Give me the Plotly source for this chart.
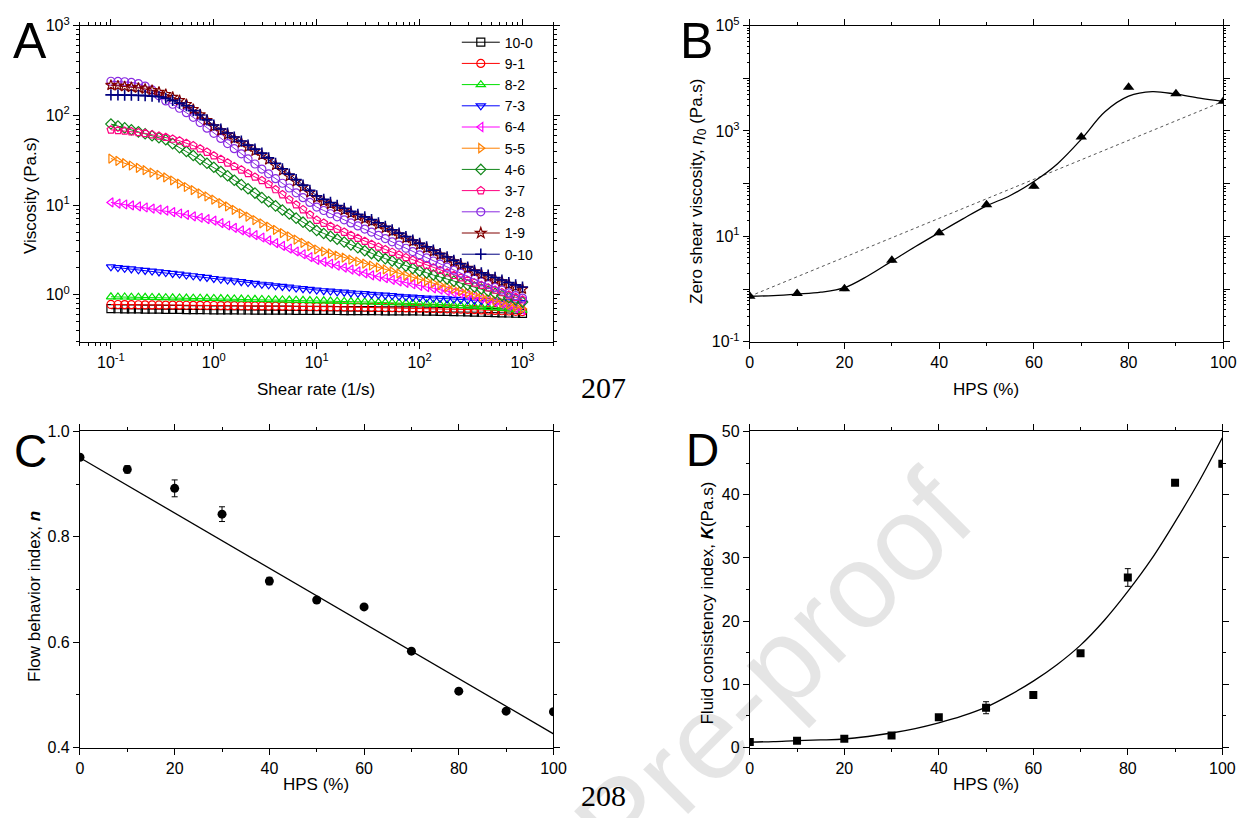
import plotly.graph_objects as go

# ---------------- Panel A data ----------------
shear_rate = [0.1, 0.117, 0.136, 0.158, 0.185, 0.215, 0.251, 0.293, 0.341, 0.398, 0.464, 0.541, 0.631, 0.736, 0.858,
              1, 1.17, 1.36, 1.58, 1.85, 2.15, 2.51, 2.93, 3.41, 3.98, 4.64, 5.41, 6.31, 7.36, 8.58,
              10, 11.7, 13.6, 15.8, 18.5, 21.5, 25.1, 29.3, 34.1, 39.8, 46.4, 54.1, 63.1, 73.6, 85.8,
              100, 117, 136, 158, 185, 215, 251, 293, 341, 398, 464, 541, 631, 736, 858, 1000]

eta_10_0 = [0.70, 0.699, 0.697, 0.696, 0.695, 0.693, 0.692, 0.691, 0.689, 0.688, 0.687, 0.685, 0.684, 0.683, 0.681, 0.68,
            0.679, 0.679, 0.678, 0.677, 0.677, 0.676, 0.675, 0.675, 0.674, 0.673, 0.673, 0.672, 0.671, 0.671, 0.67,
            0.669, 0.669, 0.668, 0.667, 0.667, 0.666, 0.665, 0.665, 0.664, 0.663, 0.663, 0.662, 0.661, 0.661, 0.66,
            0.658, 0.656, 0.654, 0.652, 0.65, 0.647, 0.645, 0.642, 0.639, 0.636, 0.633, 0.63, 0.627, 0.623, 0.62]
eta_9_1 = [0.78, 0.779, 0.777, 0.776, 0.775, 0.773, 0.772, 0.771, 0.769, 0.768, 0.767, 0.765, 0.764, 0.763, 0.761, 0.76,
           0.759, 0.757, 0.756, 0.755, 0.753, 0.752, 0.751, 0.749, 0.748, 0.747, 0.745, 0.744, 0.743, 0.741, 0.74,
           0.738, 0.736, 0.734, 0.732, 0.73, 0.728, 0.726, 0.724, 0.722, 0.72, 0.718, 0.716, 0.714, 0.712, 0.71,
           0.707, 0.704, 0.701, 0.698, 0.694, 0.69, 0.686, 0.682, 0.678, 0.674, 0.669, 0.664, 0.66, 0.655, 0.65]
eta_8_2 = [0.95, 0.947, 0.945, 0.942, 0.94, 0.937, 0.934, 0.931, 0.929, 0.926, 0.923, 0.92, 0.918, 0.915, 0.913, 0.91,
           0.907, 0.903, 0.9, 0.897, 0.893, 0.89, 0.887, 0.883, 0.88, 0.877, 0.873, 0.87, 0.867, 0.863, 0.86,
           0.856, 0.852, 0.848, 0.844, 0.84, 0.836, 0.832, 0.828, 0.824, 0.82, 0.816, 0.812, 0.808, 0.804, 0.80,
           0.794, 0.787, 0.78, 0.773, 0.766, 0.759, 0.752, 0.745, 0.735, 0.725, 0.715, 0.705, 0.695, 0.683, 0.67]
eta_7_3 = [2.05, 2.01, 1.97, 1.94, 1.90, 1.87, 1.84, 1.80, 1.77, 1.73, 1.70, 1.66, 1.63, 1.59, 1.56, 1.52,
           1.49, 1.46, 1.43, 1.40, 1.37, 1.34, 1.31, 1.29, 1.26, 1.24, 1.22, 1.19, 1.17, 1.15, 1.13,
           1.11, 1.10, 1.08, 1.07, 1.05, 1.04, 1.03, 1.01, 1.0, 0.99, 0.98, 0.96, 0.95, 0.94, 0.93,
           0.92, 0.915, 0.91, 0.90, 0.89, 0.885, 0.875, 0.87, 0.865, 0.86, 0.85, 0.845, 0.835, 0.83, 0.82]
eta_6_4 = [10.7, 10.4, 10.15, 9.9, 9.65, 9.4, 9.15, 8.9, 8.67, 8.36, 8.06, 7.77, 7.49, 7.22, 6.96, 6.7,
           6.3, 5.92, 5.57, 5.23, 4.92, 4.62, 4.35, 4.05, 3.77, 3.51, 3.27, 3.04, 2.83, 2.63, 2.45,
           2.33, 2.22, 2.11, 2.01, 1.91, 1.82, 1.73, 1.65, 1.59, 1.53, 1.47, 1.41, 1.36, 1.31, 1.26,
           1.22, 1.18, 1.14, 1.1, 1.06, 1.03, 0.99, 0.96, 0.91, 0.87, 0.83, 0.79, 0.75, 0.71, 0.68]
eta_5_5 = [33, 31.1, 29.3, 27.6, 26.0, 24.5, 23.0, 21.7, 20.4, 18.8, 17.3, 15.9, 14.7, 13.5, 12.5, 11.5,
           10.5, 9.65, 8.85, 8.1, 7.45, 6.8, 6.25, 5.75, 5.29, 4.87, 4.48, 4.12, 3.79, 3.48, 3.2,
           3.04, 2.89, 2.74, 2.6, 2.47, 2.35, 2.23, 2.12, 2.02, 1.92, 1.82, 1.73, 1.65, 1.57, 1.49,
           1.42, 1.35, 1.28, 1.22, 1.16, 1.1, 1.05, 1.0, 0.95, 0.9, 0.86, 0.82, 0.78, 0.74, 0.70]
eta_4_6 = [80, 76, 72.5, 69, 65.5, 62.3, 59.3, 56.4, 53.5, 48.4, 43.7, 39.5, 35.7, 32.3, 29.2, 26.4,
           23.6, 21.2, 18.9, 16.9, 15.2, 13.6, 12.1, 10.9, 9.8, 8.8, 7.95, 7.15, 6.45, 5.8, 5.2,
           4.83, 4.49, 4.17, 3.87, 3.6, 3.34, 3.1, 2.88, 2.7, 2.53, 2.38, 2.23, 2.09, 1.96, 1.84,
           1.75, 1.66, 1.58, 1.5, 1.42, 1.35, 1.29, 1.22, 1.16, 1.1, 1.04, 0.98, 0.93, 0.88, 0.83]
eta_3_7 = [69, 68, 67, 66, 64.5, 63, 61, 59, 57, 54.5, 52, 49, 46, 42.5, 39, 35.5,
           32.4, 29.6, 27, 24.7, 22.5, 20.6, 18.8, 17.0, 14.9, 13.1, 11.5, 10.1, 8.9, 7.8, 6.8,
           6.3, 5.8, 5.4, 5.0, 4.6, 4.28, 3.96, 3.66, 3.42, 3.2, 2.99, 2.8, 2.61, 2.44, 2.28,
           2.14, 2.0, 1.88, 1.76, 1.65, 1.55, 1.45, 1.36, 1.28, 1.2, 1.13, 1.06, 1.0, 0.94, 0.88]
eta_2_8 = [240, 239, 237, 233, 226, 212, 192, 165, 145, 133, 120, 107, 95, 83, 72, 63,
           55.3, 48.5, 42.5, 37.3, 32.7, 28.7, 25.2, 22.3, 19.7, 17.5, 15.5, 13.7, 12.1, 10.7, 9.5,
           8.7, 8.0, 7.4, 6.85, 6.33, 5.85, 5.4, 5.0, 4.6, 4.23, 3.89, 3.58, 3.3, 3.03, 2.79,
           2.58, 2.38, 2.2, 2.03, 1.88, 1.74, 1.61, 1.49, 1.39, 1.30, 1.21, 1.13, 1.05, 0.98, 0.92]
eta_1_9 = [217, 214, 210, 206, 202, 197, 190, 182, 172, 160, 147, 133, 117, 102, 88, 75,
           67.5, 61, 55, 49.5, 44.5, 40, 36, 32, 27.8, 24.2, 21, 18.3, 15.9, 13.8, 12.0,
           11.0, 10.2, 9.45, 8.75, 8.1, 7.5, 7.0, 6.55, 6.05, 5.55, 5.08, 4.66, 4.27, 3.92, 3.6,
           3.3, 3.03, 2.78, 2.55, 2.34, 2.15, 1.98, 1.82, 1.69, 1.59, 1.49, 1.40, 1.31, 1.23, 1.16]
eta_0_10 = [169, 169, 168, 168, 167, 166, 164, 161, 155, 147, 137, 128, 113, 101, 89, 78,
            70.4, 63.5, 57.3, 51.7, 46.6, 42.0, 37.9, 33.6, 29.2, 25.4, 22.1, 19.2, 16.7, 14.6, 12.7,
            11.6, 10.7, 9.9, 9.2, 8.5, 7.9, 7.4, 6.9, 6.35, 5.8, 5.3, 4.87, 4.46, 4.08, 3.74,
            3.43, 3.14, 2.88, 2.64, 2.42, 2.22, 2.04, 1.87, 1.76, 1.66, 1.56, 1.46, 1.37, 1.29, 1.22]

blend_names = ["10-0", "9-1", "8-2", "7-3", "6-4", "5-5", "4-6", "3-7", "2-8", "1-9", "0-10"]

# ---------------- Panel B-D data ----------------
hps = [0, 10, 20, 30, 40, 50, 60, 70, 80, 90, 100]
eta0 = [0.73, 0.82, 1.01, 3.5, 11.7, 40, 89, 767, 6740, 5070, 3660]
eta0_err = [0.05, 0.06, 0.08, 0.3, 1.0, 3, 7, 60, 500, 350, 250]
fit_x = [0, 5, 10, 15, 20, 25, 30, 35, 40, 45, 50, 55, 60, 65, 70, 75, 80, 85, 90, 95, 100]
eta0_fit = [0.73, 0.75, 0.80, 0.87, 1.06, 1.79, 3.39, 6.42, 11.8, 21.5, 37.9, 59.7, 110, 240, 695,
            2320, 4590, 5600, 5000, 4220, 3660]
exp_x = [0, 100]
eta0_exp = [0.73, 3660]

n_index = [0.951, 0.928, 0.892, 0.843, 0.716, 0.680, 0.667, 0.583, 0.507, 0.469, 0.468]
n_err = [0.003, 0.007, 0.016, 0.014, 0.007, 0.004, 0.002, 0.003, 0.002, 0.002, 0.002]
lin_x = [0, 100]
n_fit = [0.950, 0.426]

k_index = [0.87, 1.08, 1.39, 1.9, 4.8, 6.3, 8.3, 14.9, 26.9, 41.9, 44.9]
k_err = [0.2, 0.2, 0.2, 0.2, 0.3, 0.95, 0.3, 0.3, 1.4, 0.4, 0.5]
k_fit = [0.87, 0.95, 1.1, 1.2, 1.35, 1.75, 2.3, 3.0, 3.9, 5.0, 6.4, 8.3, 10.5, 13.1, 16.2, 20.1,
         24.7, 29.8, 35.7, 42.0, 49.0]

# ---------------- styling ----------------
FONT = "Arial, Liberation Sans, Helvetica, sans-serif"
W, H = 1259, 818

def px(x):
    return x / W

def py(y):
    return 1 - y / H

series = [
    (blend_names[0], eta_10_0, "#000000", "square-open"),
    (blend_names[1], eta_9_1, "#ff0000", "circle-open"),
    (blend_names[2], eta_8_2, "#00e000", "triangle-up-open"),
    (blend_names[3], eta_7_3, "#0000ff", "triangle-down-open"),
    (blend_names[4], eta_6_4, "#ff00ff", "triangle-left-open"),
    (blend_names[5], eta_5_5, "#ff8000", "triangle-right-open"),
    (blend_names[6], eta_4_6, "#12871a", "diamond-open"),
    (blend_names[7], eta_3_7, "#ff0080", "pentagon-open"),
    (blend_names[8], eta_2_8, "#8a2be2", "circle-open"),
    (blend_names[9], eta_1_9, "#800000", "star-open"),
    (blend_names[10], eta_0_10, "#000080", "cross-thin-open"),
]

fig = go.Figure()

for name, vals, col, sym in series:
    fig.add_trace(go.Scatter(
        x=shear_rate, y=vals, name=name, mode="lines+markers",
        line=dict(color=col, width=1),
        marker=dict(symbol=sym, size=8, color=col, line=dict(color=col, width=1.2 if "cross" not in sym else 1.6)),
        xaxis="x", yaxis="y", showlegend=True))

# Panel B
fig.add_trace(go.Scatter(x=exp_x, y=eta0_exp, mode="lines", line=dict(color="#555555", width=1, dash="dot"),
                         xaxis="x2", yaxis="y2", showlegend=False))
fig.add_trace(go.Scatter(x=fit_x, y=eta0_fit, mode="lines", line=dict(color="black", width=1.3, shape="spline"),
                         xaxis="x2", yaxis="y2", showlegend=False))
fig.add_trace(go.Scatter(x=hps, y=eta0, mode="markers",
                         marker=dict(symbol="triangle-up", size=10, color="black"),
                         error_y=dict(type="data", array=eta0_err, color="#777777", thickness=1, width=2),
                         xaxis="x2", yaxis="y2", showlegend=False))

# Panel C
fig.add_trace(go.Scatter(x=lin_x, y=n_fit, mode="lines", line=dict(color="black", width=1.3),
                         xaxis="x3", yaxis="y3", showlegend=False))
fig.add_trace(go.Scatter(x=hps, y=n_index, mode="markers",
                         marker=dict(symbol="circle", size=9, color="black"),
                         error_y=dict(type="data", array=n_err, color="black", thickness=1, width=3),
                         xaxis="x3", yaxis="y3", showlegend=False))

# Panel D
fig.add_trace(go.Scatter(x=fit_x, y=k_fit, mode="lines", line=dict(color="black", width=1.3, shape="spline"),
                         xaxis="x4", yaxis="y4", showlegend=False))
fig.add_trace(go.Scatter(x=hps, y=k_index, mode="markers",
                         marker=dict(symbol="square", size=8, color="black"),
                         error_y=dict(type="data", array=k_err, color="black", thickness=1, width=3),
                         xaxis="x4", yaxis="y4", showlegend=False))

base_axis = dict(showline=True, linecolor="black", linewidth=1, mirror="ticks", ticks="outside",
                 ticklen=6, tickwidth=1, tickcolor="black", showgrid=False, zeroline=False,
                 tickfont=dict(family=FONT, size=16, color="black"))

def sup(e):
    return "10<sup>%d</sup>" % e

minor_log = lambda decs: [m * 10 ** d for d in decs for m in range(2, 10)]

# domains
A_x = [px(77), px(557)]
B_x = [px(756), px(1236)]
top_y = [py(339), py(15)]
bot_y = [py(755), py(431)]

fig.update_layout(
    width=W, height=H, margin=dict(l=0, r=0, t=0, b=0),
    paper_bgcolor="white", plot_bgcolor="white",
    font=dict(family=FONT, size=16, color="black"),
    xaxis=dict(base_axis, domain=A_x, type="log", range=[-1.30103, 3.30103], anchor="y",
               tickmode="array", tickvals=[0.1, 1, 10, 100, 1000], ticktext=[sup(-1), sup(0), sup(1), sup(2), sup(3)],
               minor=dict(tickmode="array", tickvals=[0.05, 0.06, 0.07, 0.08, 0.09] + minor_log([-1, 0, 1, 2]) + [2000],
                          ticks="outside", ticklen=3, tickcolor="black")),
    yaxis=dict(base_axis, domain=top_y, type="log", range=[-0.5229, 3], anchor="x",
               tickmode="array", tickvals=[1, 10, 100, 1000], ticktext=[sup(0), sup(1), sup(2), sup(3)],
               minor=dict(tickmode="array", tickvals=[0.3, 0.4, 0.5, 0.6, 0.7, 0.8, 0.9] + minor_log([0, 1, 2]),
                          ticks="outside", ticklen=3, tickcolor="black")),
    xaxis2=dict(base_axis, domain=B_x, range=[0, 100], anchor="y2", tickmode="array",
                tickvals=[0, 20, 40, 60, 80, 100],
                minor=dict(tickmode="array", tickvals=[10, 30, 50, 70, 90], ticks="outside", ticklen=3, tickcolor="black")),
    yaxis2=dict(base_axis, domain=top_y, type="log", range=[-1, 5], anchor="x2", tickmode="array",
                tickvals=[0.1, 1, 10, 100, 1000, 10000, 100000],
                ticktext=[sup(-1), "", sup(1), "", sup(3), "", sup(5)],
                minor=dict(tickmode="array", tickvals=minor_log([-1, 0, 1, 2, 3, 4]), ticks="outside",
                           ticklen=2, tickcolor="black")),
    xaxis3=dict(base_axis, domain=A_x, range=[0, 100], anchor="y3", tickmode="array",
                tickvals=[0, 20, 40, 60, 80, 100],
                minor=dict(tickmode="array", tickvals=[10, 30, 50, 70, 90], ticks="outside", ticklen=3, tickcolor="black")),
    yaxis3=dict(base_axis, domain=bot_y, range=[0.4, 1.0], anchor="x3", tickmode="array",
                tickvals=[0.4, 0.6, 0.8, 1.0], ticktext=["0.4", "0.6", "0.8", "1.0"],
                minor=dict(tickmode="array", tickvals=[0.5, 0.7, 0.9], ticks="outside", ticklen=3, tickcolor="black")),
    xaxis4=dict(base_axis, domain=[px(756), px(1235)], range=[0, 100], anchor="y4", tickmode="array",
                tickvals=[0, 20, 40, 60, 80, 100],
                minor=dict(tickmode="array", tickvals=[10, 30, 50, 70, 90], ticks="outside", ticklen=3, tickcolor="black")),
    yaxis4=dict(base_axis, domain=bot_y, range=[0, 50], anchor="x4", tickmode="array",
                tickvals=[0, 10, 20, 30, 40, 50],
                minor=dict(tickmode="array", tickvals=[5, 15, 25, 35, 45], ticks="outside", ticklen=3, tickcolor="black")),
    legend=dict(x=px(459), y=py(16), xanchor="left", yanchor="top", bgcolor="rgba(0,0,0,0)",
                font=dict(family=FONT, size=14, color="black"), itemwidth=38, tracegroupgap=0),
)

ann = []
def text(x, y, s, size, angle=0, family=FONT, color="black"):
    ann.append(dict(x=px(x), y=py(y), xref="paper", yref="paper", text=s, showarrow=False,
                    textangle=angle, font=dict(family=family, size=size, color=color),
                    xanchor="center", yanchor="middle"))

# watermark
text(626, 830, "Journal Pre-proof", 120, angle=-45, color="rgba(0,0,0,0.10)")

# panel letters
text(26, 31, "A", 50)
text(702, 31, "B", 50)
text(27, 451, "C", 46)
text(708, 450, "D", 46)

# axis titles
text(316, 388, "Shear rate (1/s)", 17)
text(995, 388, "HPS (%)", 17)
text(316, 793, "HPS (%)", 17)
text(995, 793, "HPS (%)", 17)
text(27, 189, "Viscosity (Pa.s)", 17, angle=-90)
text(704, 185, "Zero shear viscosity, <i>η</i><sub>0</sub> (Pa.s)", 17, angle=-90)
text(31, 600, "Flow behavior index, <b><i>n</i></b>", 17, angle=-90)
text(713, 607, "Fluid consistency index, <b><i>K</i></b>(Pa.s)", 17, angle=-90)

# page line numbers
serif = "Liberation Serif, Times New Roman, serif"
text(608, 386, "207", 30, family=serif)
text(608, 804, "208", 30, family=serif)

fig.update_layout(annotations=ann)
fig.write_html("out.html")
